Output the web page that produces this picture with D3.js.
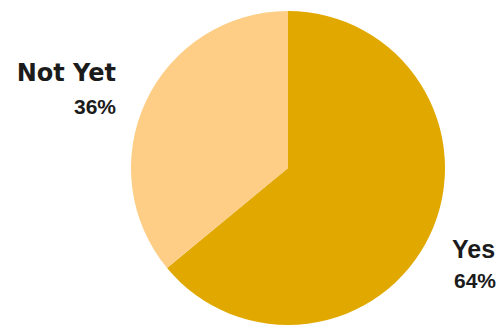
<!DOCTYPE html>
<html><head><meta charset="utf-8">
<script src="https://cdn.jsdelivr.net/npm/d3@7"></script>
<style>html,body{margin:0;padding:0;background:#fff;}</style>
</head><body>
<svg id="c" width="504" height="327"></svg>
<script>
const categories = ["Yes", "Not Yet"];
const values = [64, 36];
const labels = ["64%", "36%"];
const colors = ["#E1A900", "#FECD86"];

const svg = d3.select("#c");
const cx = 288, cy = 168, r = 157;
const pie = d3.pie().sort(null).value(d => d)(values);
const arc = d3.arc().innerRadius(0).outerRadius(r);
const g = svg.append("g").attr("transform", `translate(${cx},${cy})`);
g.selectAll("path").data(pie).join("path")
  .attr("d", arc)
  .attr("fill", (d, i) => colors[i]);

const wide = "'DejaVu Sans', sans-serif";
const font = "'Liberation Sans', Arial, sans-serif";
// Not Yet label (right-aligned, left of pie)
svg.append("text").attr("x", 116).attr("y", 80.5).attr("text-anchor", "end")
  .attr("font-family", wide).attr("font-weight", 700).attr("font-size", 24)
  .attr("fill", "#1b1b1b").text(categories[1]);
svg.append("text").attr("x", 116).attr("y", 114).attr("text-anchor", "end")
  .attr("font-family", font).attr("font-weight", 700).attr("font-size", 21)
  .attr("fill", "#1b1b1b").text(labels[1]);
// Yes label
svg.append("text").attr("x", 452).attr("y", 258).attr("text-anchor", "start")
  .attr("font-family", font).attr("font-weight", 700).attr("font-size", 25)
  .attr("fill", "#1b1b1b").text(categories[0]);
svg.append("text").attr("x", 454).attr("y", 288).attr("text-anchor", "start")
  .attr("font-family", font).attr("font-weight", 700).attr("font-size", 21)
  .attr("fill", "#1b1b1b").text(labels[0]);
</script>
</body></html>
